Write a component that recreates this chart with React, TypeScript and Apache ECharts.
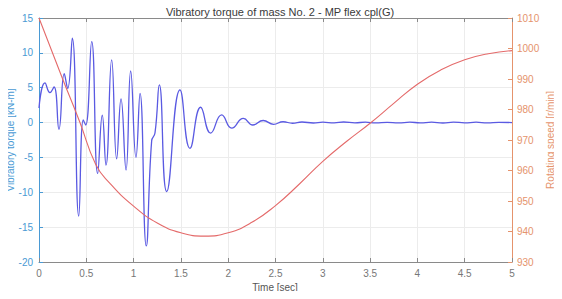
import React, { useEffect, useRef } from "react";
import * as echarts from "echarts";

// Vibratory torque of mass No. 2 [kN-m] sampled at its turning points
const torqueTime = [
  0, 0.063, 0.116, 0.159, 0.211, 0.267, 0.303, 0.352, 0.42, 0.468, 0.494, 0.557,
  0.62, 0.669, 0.708, 0.768, 0.821, 0.867, 0.92, 0.969, 1.025, 1.068, 1.134,
  1.191, 1.226, 1.272, 1.35, 1.49, 1.596, 1.709, 1.815, 1.931, 2.037, 2.16,
  2.26, 2.37, 2.48, 2.58, 2.68, 2.78, 2.9, 3.0, 3.12, 3.22, 3.34, 3.45, 3.56,
  3.68, 3.8, 3.92, 4.03, 4.15, 4.27, 4.38, 4.5, 4.62, 4.74, 4.86, 5.0,
];
const torque = [
  2.1, 5.7, 4.3, 5.1, -0.96, 7.0, 4.9, 12.1, -13.4, 0.37, -0.35, 11.6,
  -7.3, 1.05, -6.1, 9.0, -5.2, 3.4, -6.8, 7.4, -5.0, 4.2, -17.7,
  -2.6, -1.5, 5.4, -9.9, 4.7, -3.7, 2.2, -1.5, 1.1, -0.8, 0.6,
  -0.35, 0.3, -0.25, 0.12, -0.1, 0.08, -0.06, 0.05, -0.05, 0.08, -0.04, 0.06, -0.05,
  0.04, -0.05, 0.06, -0.04, 0.05, -0.06, 0.07, -0.04, 0.05, -0.05, 0.04, 0.0,
];

// Rotating speed [r/min]
const speedTime = [
  0, 0.25, 0.43, 0.6, 0.75, 1.0, 1.25, 1.5, 1.75, 2.0, 2.25, 2.5, 2.75, 3.0, 3.25,
  3.5, 3.75, 4.0, 4.25, 4.5, 4.75, 5.0,
];
const speed = [
  1010, 990.0, 976.0, 962.0, 955.8, 948.3, 942.8, 939.6, 938.5, 939.6, 943.0, 948.5,
  955.5, 963.0, 969.5, 975.5, 982.0, 988.3, 993.0, 996.3, 998.3, 999.3,
];

const title = "Vibratory torque of mass No. 2 - MP flex cpl(G)";
const xName = "Time [sec]";
const leftName = "Vibratory torque [kN-m]";
const rightName = "Rotating speed [r/min]";

const FONT = "'Liberation Sans', Arial, sans-serif";
const BLUE_AXIS = "#4a9ad4";
const ORANGE_AXIS = "#e5936c";
const GRAY = "#8a8a8a";

export default function App() {
  const ref = useRef<HTMLDivElement>(null);

  useEffect(() => {
    if (!ref.current) return;
    const chart = echarts.init(ref.current, null, { renderer: "svg" });
    const nameText = (text: string, x: number, y: number, rot: number, fill: string) => ({
      type: "text",
      x,
      y,
      rotation: rot,
      silent: true,
      style: {
        text,
        fill,
        fontSize: 10,
        fontFamily: FONT,
        align: "center",
        verticalAlign: "middle",
      },
    });
    chart.setOption({
      animation: false,
      backgroundColor: "#ffffff",
      textStyle: { fontFamily: FONT },
      title: {
        text: title,
        left: 275,
        textAlign: "center",
        top: 1,
        textStyle: { fontSize: 11, fontWeight: "normal", color: "#3a3a3a", fontFamily: FONT },
      },
      grid: { left: 39, right: 50, top: 18, bottom: 37, outerBoundsMode: "none" },
      graphic: [
        nameText(xName, 275, 287, 0, "#555555"),
        nameText(leftName, 10, 140, Math.PI / 2, BLUE_AXIS),
        nameText(rightName, 550, 140, Math.PI / 2, ORANGE_AXIS),
      ],
      xAxis: [
        {
          type: "value",
          min: 0,
          max: 5,
          interval: 0.5,
          axisLine: { show: true, onZero: false, lineStyle: { color: GRAY, width: 1 } },
          axisTick: { show: true, inside: true, length: 4, lineStyle: { color: GRAY } },
          axisLabel: { fontSize: 10, color: "#777", margin: 6 },
          splitLine: { show: true, lineStyle: { color: "#ececec", width: 1 } },
        },
        {
          type: "value",
          position: "top",
          min: 0,
          max: 5,
          interval: 0.5,
          axisLine: { show: true, onZero: false, lineStyle: { color: GRAY, width: 1 } },
          axisTick: { show: true, inside: true, length: 4, lineStyle: { color: GRAY } },
          axisLabel: { show: false },
          splitLine: { show: false },
        },
      ],
      yAxis: [
        {
          type: "value",
          min: -20,
          max: 15,
          interval: 5,
          axisLine: { show: true, onZero: false, lineStyle: { color: BLUE_AXIS, width: 1 } },
          axisTick: { show: true, inside: true, length: 4, lineStyle: { color: BLUE_AXIS } },
          axisLabel: { fontSize: 10, color: BLUE_AXIS, margin: 6 },
          splitLine: { show: true, lineStyle: { color: "#ececec", width: 1 } },
        },
        {
          type: "value",
          position: "right",
          min: 930,
          max: 1010,
          interval: 10,
          axisLine: { show: true, onZero: false, lineStyle: { color: ORANGE_AXIS, width: 1 } },
          axisTick: { show: true, inside: true, length: 4, lineStyle: { color: ORANGE_AXIS } },
          axisLabel: {
            fontSize: 10,
            color: ORANGE_AXIS,
            margin: 5,
            formatter: (v: number) => String(v),
          },
          splitLine: { show: false },
        },
      ],
      series: [
        {
          type: "line",
          xAxisIndex: 0,
          yAxisIndex: 0,
          data: torqueTime.map((t, i) => [t, torque[i]]),
          smooth: 0.5,
          showSymbol: false,
          lineStyle: { color: "#5a5ae2", width: 1.3 },
          z: 3,
        },
        {
          type: "line",
          xAxisIndex: 0,
          yAxisIndex: 1,
          data: speedTime.map((t, i) => [t, speed[i]]),
          smooth: 0.5,
          showSymbol: false,
          lineStyle: { color: "#e46a6a", width: 1.1 },
          z: 4,
        },
      ],
    });
    return () => chart.dispose();
  }, []);

  return <div ref={ref} style={{ width: 562, height: 299, margin: -8 }} />;
}
